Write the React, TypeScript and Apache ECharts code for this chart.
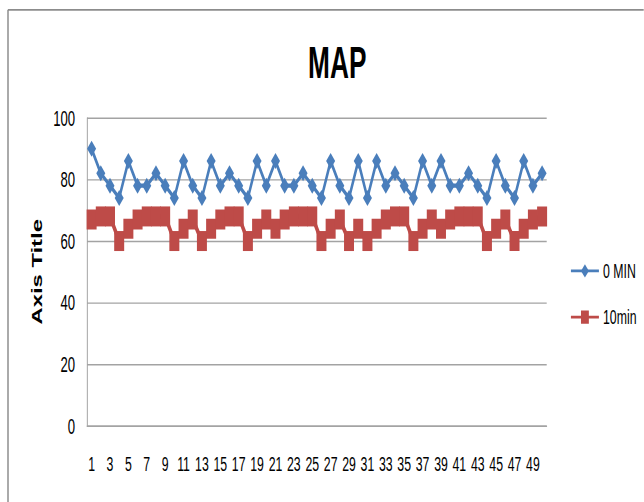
import React, { useEffect, useRef } from "react";
import * as echarts from "echarts";

const categories: string[] = Array.from({ length: 50 }, (_, i) => String(i + 1));

const min0: number[] = [
  90, 82, 78, 74, 86, 78, 78, 82, 78, 74,
  86, 78, 74, 86, 78, 82, 78, 74, 86, 78,
  86, 78, 78, 82, 78, 74, 86, 78, 74, 86,
  74, 86, 78, 82, 78, 74, 86, 78, 86, 78,
  78, 82, 78, 74, 86, 78, 74, 86, 78, 82,
];

const min10: number[] = [
  67, 68, 68, 60, 64, 67, 68, 68, 68, 60,
  64, 67, 60, 64, 67, 68, 68, 60, 64, 67,
  64, 67, 68, 68, 68, 60, 64, 67, 60, 64,
  60, 64, 67, 68, 68, 60, 64, 67, 64, 67,
  68, 68, 68, 60, 64, 67, 60, 64, 67, 68,
];

const seriesNames: string[] = ["0 MIN", "10min"];
const yTicks = { min: 0, max: 100, interval: 20 };

const W = 644;
const H = 502;
// the reference is drawn in a narrow face and stretched vertically
const SX = 0.82;
const SY = 1.4;
const CW = W / SX;
const CH = H / SY;
const FONT = "'Liberation Sans', Arial, sans-serif";
const GRID = "#a3a3a3";

export default function App() {
  const ref = useRef<HTMLDivElement>(null);

  useEffect(() => {
    document.body.style.margin = "0";
    if (!ref.current) return;
    const chart = echarts.init(ref.current, undefined, { renderer: "svg" });
    chart.setOption({
      animation: false,
      backgroundColor: "#ffffff",
      title: {
        text: "MAP",
        left: 304 / SX,
        top: 24,
        textStyle: { fontFamily: FONT, fontSize: 32, fontWeight: "bold", color: "#000" },
      },
      legend: {
        orient: "vertical",
        left: 566 / SX,
        top: 181,
        itemWidth: 28 / SX,
        itemHeight: 12,
        itemGap: 18,
        data: seriesNames,
        textStyle: { fontFamily: FONT, fontSize: 15, color: "#000" },
      },
      grid: { left: 87 / SX, right: CW - 547 / SX, top: 118 / SY, bottom: CH - 425 / SY },
      xAxis: {
        type: "category",
        data: categories,
        boundaryGap: true,
        axisLine: { lineStyle: { color: GRID, width: 1 } },
        axisTick: { show: false },
        axisLabel: { interval: 1, margin: 20, fontFamily: FONT, fontSize: 15, color: "#000" },
      },
      yAxis: {
        type: "value",
        min: yTicks.min,
        max: yTicks.max,
        interval: yTicks.interval,
        name: "Axis Title",
        nameLocation: "middle",
        nameRotate: 90,
        nameGap: 49,
        nameTextStyle: { fontFamily: FONT, fontWeight: "bold", fontSize: 17, color: "#000" },
        axisLine: { show: true, lineStyle: { color: GRID, width: 1.2 } },
        axisTick: { show: false },
        splitLine: { lineStyle: { color: GRID, width: 1 } },
        axisLabel: { margin: 14.6, fontFamily: FONT, fontSize: 16, color: "#000" },
      },
      graphic: [
        { type: "line", shape: { x1: 8 / SX, y1: 7, x2: CW + 10, y2: 7 }, style: { stroke: "#8c8c8c", lineWidth: 1.2 }, silent: true },
        { type: "line", shape: { x1: 8 / SX, y1: 7, x2: 8 / SX, y2: CH + 10 }, style: { stroke: "#8c8c8c", lineWidth: 1.8 }, silent: true },
      ],
      series: [
        {
          name: seriesNames[0],
          type: "line",
          data: min0,
          showAllSymbol: true,
          symbol: "diamond",
          symbolSize: [9 / SX, 16 / SY],
          lineStyle: { color: "#4a7ebb", width: 3 },
          itemStyle: { color: "#4a7ebb" },
          z: 3,
        },
        {
          name: seriesNames[1],
          type: "line",
          data: min10,
          showAllSymbol: true,
          symbol: "rect",
          symbolSize: [10 / SX, 20 / SY],
          lineStyle: { color: "#be4b48", width: 4 },
          itemStyle: { color: "#be4b48" },
          z: 2,
        },
      ],
    });
    return () => chart.dispose();
  }, []);

  return (
    <div style={{ width: W, height: H, overflow: "hidden", background: "#fff" }}>
      <div
        ref={ref}
        style={{ width: CW, height: CH, transform: `scale(${SX}, ${SY})`, transformOrigin: "0 0" }}
      />
    </div>
  );
}
